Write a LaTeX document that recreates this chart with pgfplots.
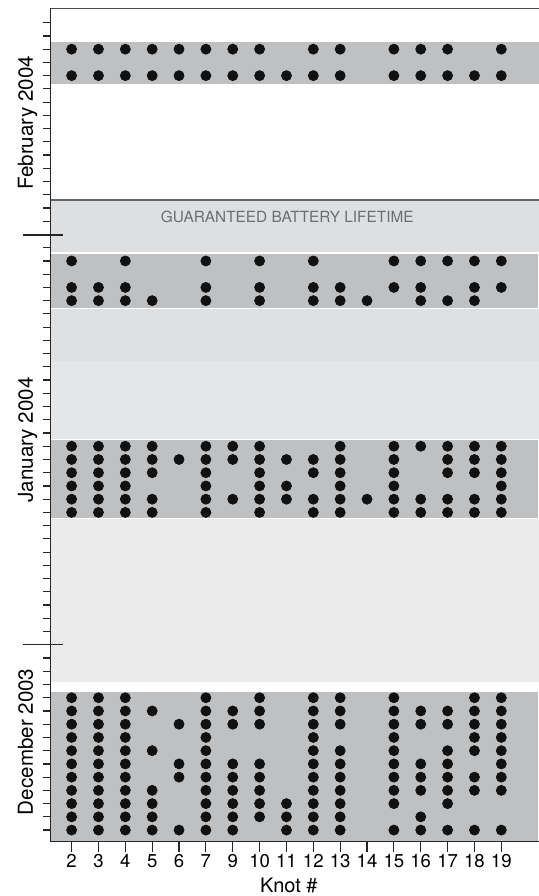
\documentclass[border=0pt]{standalone}
\usepackage{fontspec}
\setmainfont{TeX Gyre Heros}
\usepackage{pgfplots}
\pgfplotsset{compat=1.18}
\definecolor{band}{HTML}{BFC0C2}
\definecolor{lifeA}{HTML}{DEDFE1}
\definecolor{lifeB}{HTML}{DFE0E2}
\definecolor{lifeC}{HTML}{E5E6E8}
\definecolor{lifeD}{HTML}{EBEBEB}
\definecolor{textgray}{HTML}{6D6E71}
\definecolor{dotc}{HTML}{111111}
\begin{document}
\begin{tikzpicture}
\begin{axis}[
  scale only axis, width=244.15pt, height=417pt,
  xmin=-0.78, xmax=17.39, ymin=-0.88, ymax=62.09,
  clip=false,
  axis x line*=bottom, axis y line*=left,
  axis line style={line width=0.7pt, color=black!85},
  tick align=outside,
  xtick={0,...,16},
  xticklabels={\mbox{2},\mbox{3},\mbox{4},\mbox{5},\mbox{6},\mbox{7},\mbox{9},\mbox{10},\mbox{11},\mbox{12},\mbox{13},\mbox{14},\mbox{15},\mbox{16},\mbox{17},\mbox{18},\mbox{19}},
  major tick length=5.3pt, minor tick length=3.7pt,
  ytick={14,45}, yticklabels={},
  major y tick style={draw=none},
  minor ytick={0,...,61},
  tick style={line width=0.6pt, black!85},
  xticklabel style={font=\fontsize{9.3}{10}\selectfont, inner sep=0pt, yshift=-1pt},
  axis on top,
]
% light (battery lifetime) regions
\addplot[fill=lifeD, draw=none] coordinates {(-0.78,11.2) (17.39,11.2) (17.39,23.52) (-0.78,23.52)} -- cycle;
\addplot[fill=lifeC, draw=none] coordinates {(-0.78,29.52) (17.39,29.52) (17.39,35.46) (-0.78,35.46)} -- cycle;
\addplot[fill=lifeB, draw=none] coordinates {(-0.78,35.46) (17.39,35.46) (17.39,39.42) (-0.78,39.42)} -- cycle;
\addplot[fill=lifeA, draw=none] coordinates {(-0.78,43.6) (17.39,43.6) (17.39,47.6) (-0.78,47.6)} -- cycle;
% dark bands (weeks with data)
\addplot[fill=band, draw=white, line width=0.6pt] coordinates {(-0.78,-0.88) (17.39,-0.88) (17.39,10.45) (-0.78,10.45)} -- cycle;
\addplot[fill=band, draw=white, line width=0.6pt] coordinates {(-0.78,23.52) (17.39,23.52) (17.39,29.52) (-0.78,29.52)} -- cycle;
\addplot[fill=band, draw=white, line width=0.6pt] coordinates {(-0.78,39.42) (17.39,39.42) (17.39,43.6) (-0.78,43.6)} -- cycle;
\addplot[fill=band, draw=none] coordinates {(-0.78,56.4) (17.39,56.4) (17.39,59.55) (-0.78,59.55)} -- cycle;
% lifetime border line
\addplot[draw=black!60, line width=0.6pt] coordinates {(-0.78,47.6) (17.39,47.6)};
% top border line
\addplot[draw=black!70, line width=0.6pt] coordinates {(-0.78,62.09) (17.39,62.09)};
% data dots: (knot index, day)
\addplot[only marks, mark=*, mark size=2.5pt, color=dotc] coordinates {
(0,59) (1,59) (2,59) (3,59) (4,59) (5,59) (6,59) (7,59) (9,59) (10,59) (12,59) (13,59) (14,59) (16,59)
(0,57) (1,57) (2,57) (3,57) (4,57) (5,57) (6,57) (7,57) (8,57) (9,57) (10,57) (12,57) (13,57) (14,57) (15,57) (16,57)
(0,43) (2,43) (5,43) (7,43) (9,43) (12,43) (13,43) (14,43) (15,43) (16,43)
(0,41) (1,41) (2,41) (5,41) (7,41) (9,41) (10,41) (12,41) (13,41) (15,41) (16,41)
(0,40) (1,40) (2,40) (3,40) (5,40) (7,40) (9,40) (10,40) (11,40) (13,40) (14,40) (15,40)
(0,29) (1,29) (2,29) (3,29) (5,29) (6,29) (7,29) (10,29) (12,29) (13,29) (14,29) (15,29) (16,29)
(0,28) (1,28) (2,28) (3,28) (4,28) (5,28) (6,28) (7,28) (8,28) (9,28) (10,28) (12,28) (14,28) (15,28) (16,28)
(0,27) (1,27) (2,27) (3,27) (5,27) (7,27) (9,27) (10,27) (12,27) (14,27) (15,27) (16,27)
(0,26) (1,26) (2,26) (5,26) (7,26) (8,26) (10,26) (12,26) (16,26)
(0,25) (1,25) (2,25) (3,25) (5,25) (6,25) (7,25) (8,25) (9,25) (10,25) (11,25) (12,25) (13,25) (14,25) (15,25) (16,25)
(0,24) (1,24) (2,24) (3,24) (5,24) (7,24) (9,24) (10,24) (12,24) (13,24) (14,24) (15,24) (16,24)
(0,10) (1,10) (2,10) (5,10) (7,10) (9,10) (10,10) (12,10) (15,10) (16,10)
(0,9) (1,9) (2,9) (3,9) (5,9) (6,9) (7,9) (9,9) (10,9) (12,9) (13,9) (14,9) (15,9) (16,9)
(0,8) (1,8) (2,8) (4,8) (5,8) (6,8) (7,8) (9,8) (10,8) (12,8) (13,8) (14,8) (15,8) (16,8)
(0,7) (1,7) (2,7) (5,7) (9,7) (12,7) (15,7) (16,7)
(0,6) (1,6) (2,6) (3,6) (5,6) (9,6) (10,6) (12,6) (14,6) (15,6) (16,6)
(0,5) (1,5) (2,5) (4,5) (5,5) (6,5) (7,5) (9,5) (10,5) (12,5) (13,5) (14,5) (16,5)
(0,4) (1,4) (2,4) (4,4) (5,4) (6,4) (7,4) (9,4) (10,4) (12,4) (13,4) (14,4) (15,4) (16,4)
(0,3) (1,3) (2,3) (3,3) (5,3) (6,3) (7,3) (9,3) (10,3) (12,3) (13,3) (14,3) (15,3) (16,3)
(0,2) (1,2) (2,2) (3,2) (5,2) (6,2) (7,2) (8,2) (9,2) (10,2) (12,2) (14,2)
(0,1) (1,1) (2,1) (3,1) (5,1) (6,1) (7,1) (8,1) (9,1) (10,1) (13,1)
(0,0) (1,0) (2,0) (3,0) (4,0) (5,0) (6,0) (8,0) (9,0) (10,0) (12,0) (13,0) (14,0) (15,0) (16,0)
};
\end{axis}
% left axis line (drawn explicitly so it sits on top of the bands)
\draw[line width=0.7pt, black!85] (current axis.south west) -- (current axis.north west);
% month boundary ticks (1 January, 1 February)
\draw[line width=0.6pt, black!85] ([shift={(-13.7pt,98.5pt)}]current axis.south west) -- ++(20pt,0);
\draw[line width=0.6pt, black!85] ([shift={(-13.7pt,303.6pt)}]current axis.south west) -- ++(20pt,0);
% texts
\node[text=textgray, font=\fontsize{7.7}{9}\selectfont, inner sep=0pt] at ([shift={(118.4pt,312.85pt)}]current axis.south west) {GUARANTEED BATTERY LIFETIME};
\node[rotate=90, anchor=base, font=\fontsize{10.3}{12}\selectfont, inner sep=0pt] at ([shift={(-8.85pt,359.6pt)}]current axis.south west) {February 2004};
\node[rotate=90, anchor=base, font=\fontsize{10.3}{12}\selectfont, inner sep=0pt] at ([shift={(-8.85pt,201pt)}]current axis.south west) {January 2004};
\node[rotate=90, anchor=base, font=\fontsize{10.3}{12}\selectfont, inner sep=0pt] at ([shift={(-8.85pt,50pt)}]current axis.south west) {December 2003};
\node[anchor=base, font=\fontsize{10}{12}\selectfont, inner sep=0pt] at ([shift={(119.15pt,-25.5pt)}]current axis.south west) {Knot \#};
\pgfresetboundingbox
\useasboundingbox ([xshift=-25.35pt,yshift=-27.15pt]current axis.south west) rectangle ([yshift=4.15pt]current axis.north east);
\end{tikzpicture}
\end{document}
